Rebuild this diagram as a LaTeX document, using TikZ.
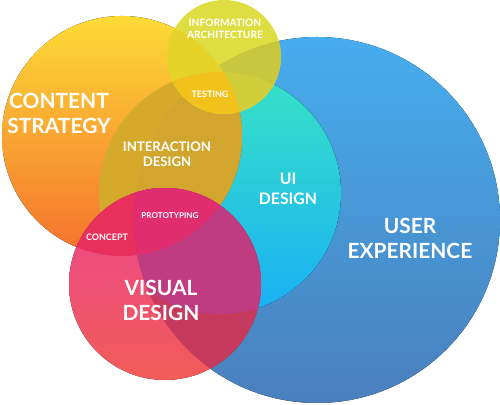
\documentclass[tikz,border=0pt]{standalone}
\usepackage{fontspec}
\setmainfont{Lato}
\usepackage{xcolor}

\definecolor{olivea}{HTML}{D5AA2B}
\definecolor{oliveb}{HTML}{D1A52E}
\definecolor{iabase}{HTML}{DEDD42}
\definecolor{iaorange}{HTML}{E6D32A}
\definecolor{iablue}{HTML}{C8C73E}
\definecolor{iateal}{HTML}{D0CE3A}
\definecolor{testgold}{HTML}{F2C11C}
\definecolor{conceptred}{HTML}{E92F5C}
\definecolor{protopink}{HTML}{E02D6E}
\definecolor{vdblue}{HTML}{C63A5E}
\definecolor{vdpurple}{HTML}{BF3C82}

\tikzset{
  lbl/.style={text=white, align=center, inner sep=0pt},
  bigtext/.style={lbl, font=\fontsize{11.9}{14.2}\selectfont\bfseries},
  midtext/.style={lbl, font=\fontsize{7.5}{8.6}\selectfont\bfseries},
  smalltext/.style={lbl, font=\fontsize{5.1}{6}\selectfont\bfseries},
}

\begin{document}
\begin{tikzpicture}[x=0.02cm, y=0.02cm]
                \useasboundingbox (0,0) rectangle (500,405);
                \coordinate (ux) at (317,185);
                \coordinate (ui) at (220,212);
                \coordinate (cs) at (122,269);
                \coordinate (ia) at (224,348);
                \coordinate (vd) at (165,121);
                % big circles
                \fill[top color={rgb,255:red,70;green,173;blue,238}, bottom color={rgb,255:red,74;green,127;blue,188}] (ux) circle (183);
                \fill[top color={rgb,255:red,55;green,226;blue,198}, bottom color={rgb,255:red,25;green,176;blue,244}] (ui) circle (121);
                \fill[top color={rgb,255:red,253;green,219;blue,54}, bottom color={rgb,255:red,245;green,113;blue,46}] (cs) circle (120);
                % interaction design
                \begin{scope}
                    \clip (cs) circle (120);
                    \fill[olivea] (ui) circle (121);
                    \clip (ux) circle (183);
                    \fill[oliveb] (ui) circle (121);
                \end{scope}
                % information architecture
                \fill[iabase] (ia) circle (57);
                \begin{scope}
                    \clip (ia) circle (57);
                    \fill[iablue] (ux) circle (183);
                    \fill[iaorange] (cs) circle (120);
                    \fill[iateal] (ui) circle (121);
                    \clip (cs) circle (120);
                    \fill[testgold] (ui) circle (121);
                \end{scope}
                % visual design
                \fill[top color={rgb,255:red,234;green,70;blue,144}, bottom color={rgb,255:red,242;green,92;blue,88}] (vd) circle (96);
                \begin{scope}
                    \clip (vd) circle (96);
                    \fill[conceptred] (cs) circle (120);
                    \fill[vdblue] (ux) circle (183);
                    \clip (ux) circle (183);
                    \fill[vdpurple] (ui) circle (121);
                    \clip (cs) circle (120);
                    \fill[protopink] (ui) circle (121);
                \end{scope}
                % labels
                \node[bigtext] (cstext) at (59,292) {CONTENT\\STRATEGY};
                \node[bigtext] (uxtext) at (410,167) {USER\\EXPERIENCE};
                \node[bigtext] (vdtext) at (161,105) {VISUAL\\DESIGN};
                \node[midtext] (idtext) at (167,251) {INTERACTION\\DESIGN};
                \node[midtext, font=\fontsize{9}{11.2}\selectfont\bfseries] (uitext) at (288,216) {UI\\DESIGN};
                \node[smalltext, font=\fontsize{5.8}{6.5}\selectfont\bfseries] (iatext) at (225,376) {INFORMATION\\ARCHITECTURE};
                \node[smalltext] (testtext) at (210,311) {TESTING};
                \node[smalltext, font=\fontsize{4.6}{6}\selectfont\bfseries] (prototext) at (170,189) {PROTOTYPING};
                \node[smalltext] (concepttext) at (107,168) {CONCEPT};
            \end{tikzpicture}
\end{document}
